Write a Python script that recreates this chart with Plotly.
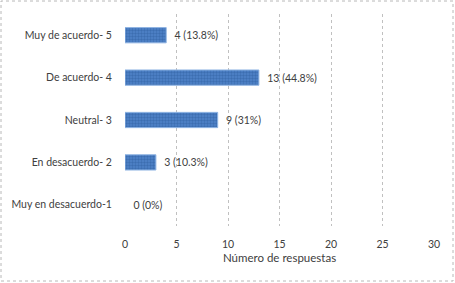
import plotly.graph_objects as go

categories = ["Muy en desacuerdo-1", "En desacuerdo- 2", "Neutral- 3", "De acuerdo- 4", "Muy de acuerdo- 5"]
counts = [0, 3, 9, 13, 4]
labels = ["0 (0%)", "3 (10.3%)", "9 (31%)", "13 (44.8%)", "4 (13.8%)"]
x_ticks = [0, 5, 10, 15, 20, 25, 30]

fig = go.Figure(go.Bar(
    y=categories, x=counts, orientation="h",
    text=labels, texttemplate="  %{text}", textposition="outside", cliponaxis=False,
    textfont=dict(size=10.5, color="#404040"),
    marker=dict(color="#3f70b6",
                line=dict(color=["rgba(0,0,0,0)" if c == 0 else "#8fb4e3" for c in counts], width=1),
                pattern=dict(shape=".", fgcolor="#2a579a", bgcolor="#4f84c8", size=3, solidity=0.5)),
))

fig.update_layout(
    width=455, height=283,
    margin=dict(l=125, r=21, t=14, b=57, autoexpand=False),
    paper_bgcolor="white", plot_bgcolor="white",
    font=dict(family="Lato", size=10, color="#404040"),
    bargap=0.64,
    showlegend=False,
    xaxis=dict(range=[0, 30], tickvals=x_ticks, showgrid=True, gridcolor="#c0c0c0",
               griddash="dot", gridwidth=1, zeroline=False, showline=False, automargin=False,
               title=dict(text="Número de respuestas", standoff=5, font=dict(size=11.5)),
               tickfont=dict(size=10.5), ticks="outside", ticklen=8, tickcolor="rgba(0,0,0,0)"),
    yaxis=dict(showgrid=False, zeroline=False, showline=False, tickfont=dict(size=10.5),
               automargin=False,
               ticks="outside", ticklen=10, tickcolor="rgba(0,0,0,0)"),
    shapes=[dict(type="rect", xref="paper", yref="paper", x0=-124/309, x1=1+19/309,
                 y0=-55/212, y1=1+13/212,
                 line=dict(color="#b8b8b8", width=1, dash="dot"))],
)

fig.write_html("out.html", config={"displayModeBar": False},
               post_script="document.body.style.margin='0';document.body.style.overflow='hidden';")
